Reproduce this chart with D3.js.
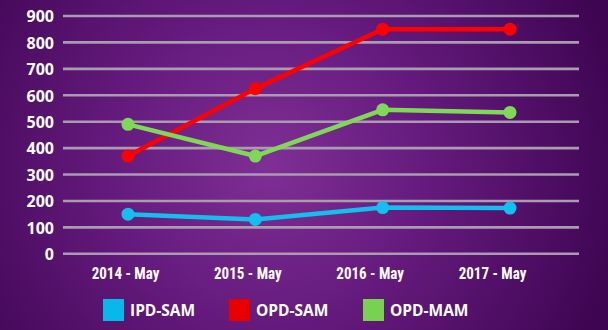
<!DOCTYPE html>
<html>
<head>
<meta charset="utf-8">
<script src="https://cdn.jsdelivr.net/npm/d3@7"></script>
<style>
  html, body { margin: 0; padding: 0; background: #45085a; }
  svg { display: block; }
</style>
</head>
<body>
<svg id="chart" width="608" height="330"></svg>
<script>
// Admissions by programme, May of each year
const categories = ["2014 - May", "2015 - May", "2016 - May", "2017 - May"];
const seriesNames = ["IPD-SAM", "OPD-SAM", "OPD-MAM"];
const ipdSam = [150, 130, 175, 173];
const opdSam = [370, 625, 850, 850];
const opdMam = [490, 370, 545, 535];
const yTicks = [0, 100, 200, 300, 400, 500, 600, 700, 800, 900];

const lineColors = ["#12bfee", "#ff0000", "#7fd957"];
const swatchColors = ["#06b9ea", "#e80000", "#78d14f"];
const seriesValues = [ipdSam, opdSam, opdMam];

const W = 608, H = 330;
const svg = d3.select("#chart");

// background: purple radial glow
const defs = svg.append("defs");
const grad = defs.append("radialGradient")
  .attr("id", "bg").attr("gradientUnits", "userSpaceOnUse")
  .attr("cx", 270).attr("cy", 165).attr("r", 360);
grad.append("stop").attr("offset", "0%").attr("stop-color", "#7f2f95");
grad.append("stop").attr("offset", "45%").attr("stop-color", "#641a7c");
grad.append("stop").attr("offset", "100%").attr("stop-color", "#3e0552");
svg.append("rect").attr("width", W).attr("height", H).attr("fill", "url(#bg)");

const plotLeft = 63, plotRight = 579;
const y = d3.scaleLinear().domain([0, 900]).range([253.8, 16]);
const x = d3.scalePoint().domain(categories).range([128, 510]);
const xLabel = d3.scalePoint().domain(categories).range([125, 492]);

// horizontal grid
svg.append("g").selectAll("line").data(yTicks).join("line")
  .attr("x1", plotLeft).attr("x2", plotRight)
  .attr("y1", d => y(d)).attr("y2", d => y(d))
  .attr("stroke", "#a99cb0").attr("stroke-width", 2.6);

// y axis labels
const yAxis = svg.append("g").attr("transform", `translate(${plotLeft},0)`)
  .call(d3.axisLeft(y).tickValues(yTicks).tickSize(0).tickPadding(9).tickFormat(d3.format("d")));
yAxis.select(".domain").remove();
yAxis.selectAll("text")
  .attr("fill", "#ffffff")
  .style("font-family", "'Open Sans', sans-serif")
  .style("font-weight", "700")
  .style("font-size", "16px")
  .attr("dy", "0.36em");

// x axis labels (condensed)
const xAxis = svg.append("g").attr("transform", "translate(0,266)")
  .call(d3.axisBottom(xLabel).tickSize(0).tickPadding(0));
xAxis.select(".domain").remove();
xAxis.selectAll("text")
  .attr("fill", "#ffffff")
  .attr("dy", "0.76em")
  .attr("transform", "scale(0.91,1)")
  .style("font-family", "'Liberation Sans Narrow', 'Roboto Condensed', sans-serif")
  .style("font-weight", "700")
  .style("font-size", "16.5px");

// series lines and markers
const line = d3.line().x((d, i) => x(categories[i])).y(d => y(d));
seriesValues.forEach((vals, s) => {
  const g = svg.append("g");
  g.append("path").datum(vals)
    .attr("d", line)
    .attr("fill", "none")
    .attr("stroke", lineColors[s])
    .attr("stroke-width", 4.5)
    .attr("stroke-linejoin", "round");
  g.selectAll("circle").data(vals).join("circle")
    .attr("cx", (d, i) => x(categories[i]))
    .attr("cy", d => y(d))
    .attr("r", 6.5)
    .attr("fill", lineColors[s]);
});

// legend
const legendX = [103, 229, 363];
const legend = svg.append("g");
seriesNames.forEach((name, i) => {
  legend.append("rect")
    .attr("x", legendX[i]).attr("y", 299)
    .attr("width", 21).attr("height", 22)
    .attr("fill", swatchColors[i]);
  legend.append("text")
    .attr("x", legendX[i] + 27).attr("y", 310)
    .attr("dy", "0.36em")
    .attr("fill", "#ffffff")
    .style("font-family", "'Open Sans', sans-serif")
    .style("font-weight", "700")
    .style("font-size", "15.5px")
    .text(name);
});
</script>
</body>
</html>
